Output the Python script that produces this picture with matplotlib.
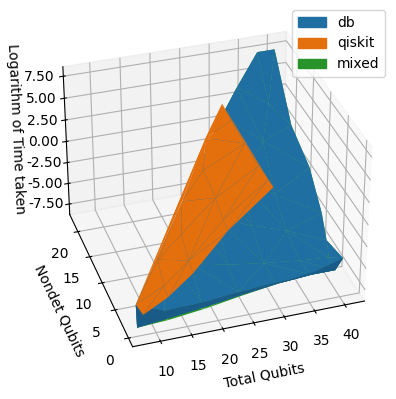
import matplotlib
matplotlib.use("Agg")
import matplotlib.pyplot as plt
from matplotlib.patches import Patch

# db surface samples, row by row in nondet qubits
db_total = [7, 12, 18, 24, 30, 36, 40.3,
            7.5, 12, 18, 24, 30, 36, 40,
            14, 18, 24, 30, 36, 41,
            19.5, 24, 30, 36, 42,
            24.5, 30, 36, 42.5,
            29, 36, 42.5,
            33, 38.5, 42,
            38, 41]
db_nondet = [0, 0, 0, 0, 0, 0, 0,
             1.5, 1.5, 1.5, 1.5, 1.5, 1.5, 1.5,
             5, 5, 5, 5, 5, 5,
             9, 9, 9, 9, 7.5,
             13, 13, 13, 10,
             17, 17, 14,
             20, 20, 19,
             23, 23]
db_time = [-7.8, -7.4, -6.9, -6.3, -5.8, -5.2, -4.3,
           -6.2, -7.5, -7.4, -7.0, -6.7, -6.6, -6.6,
           -3.5, -5.0, -6.0, -6.6, -7.1, -7.4,
           -1.5, -3.0, -4.6, -6.0, -7.0,
           0.0, -1.5, -4.0, -5.3,
           3.8, 0.0, -2.2,
           5.0, 2.5, 0.1,
           7.0, 7.0]
mixed_time = [-7.8, -7.6, -7.1, -6.4, -5.8, -5.2, -4.3,
              -6.2, -7.5, -7.4, -7.0, -6.7, -6.6, -6.6,
              -3.5, -5.0, -6.0, -6.6, -7.1, -7.4,
              -1.5, -3.0, -4.6, -6.0, -7.0,
              0.0, -1.5, -4.0, -5.3,
              3.8, 0.0, -2.2,
              5.0, 2.5, 0.1,
              7.0, 7.0]

qiskit_total = [8, 12, 16, 21.5, 28.6,
                7.5, 12, 16, 21.5, 28.6,
                12.2, 16, 21.5, 28.4,
                18, 21.5, 28.2,
                23.8, 28,
                28]
qiskit_nondet = [0, 0, 0, 0, 0,
                 1.5, 1.5, 1.5, 1.5, 1.5,
                 4, 4, 4, 4,
                 8, 8, 8,
                 12, 12,
                 15]
qiskit_time = [-6.45, -4.95, -2.75, 1.3, 5.2,
               -6.15, -4.65, -2.25, 1.6, 5.2,
               -3.2, -0.8, 2.6, 5.3,
               0.3, 3.4, 5.6,
               4.5, 6.0,
               6.3]

legend_labels = ["db", "qiskit", "mixed"]
surface_colors = ["#1f6fa3", "#e3700d", "#27932a"]
fold_color = "#1a5a87"
x_ticks = [10, 15, 20, 25, 30, 35, 40]
y_ticks = [0, 5, 10, 15, 20]
z_ticks = [-7.5, -5, -2.5, 0, 2.5, 5, 7.5]
z_tick_labels = ["-7.50", "-5.00", "-2.50", "0.00", "2.50", "5.00", "7.50"]

fig = plt.figure(figsize=(3.96, 3.99), dpi=100)
side = 372
ax = fig.add_axes([(207.5 - side / 2) / 396, 1 - (188 + side / 2) / 399, side / 396, side / 399],
                  projection="3d", computed_zorder=False)
ax.patch.set_alpha(0)
ax.view_init(elev=33, azim=-108)
ax.plot_trisurf(db_total, db_nondet, mixed_time, color=surface_colors[2], shade=False)
ax.plot_trisurf(db_total, db_nondet, db_time, color=surface_colors[0], shade=False)
ax.plot_trisurf(db_total[:14], db_nondet[:14], db_time[:14], color=fold_color, shade=False)
ax.plot_trisurf(qiskit_total, qiskit_nondet, qiskit_time, color=surface_colors[1], shade=False)
ax.set_xlabel("Total Qubits")
ax.set_ylabel("Nondet Qubits")
ax.set_zlabel("Logarithm of Time taken")
ax.set_xticks(x_ticks)
ax.set_yticks(y_ticks)
ax.set_zticks(z_ticks)
ax.set_zticklabels(z_tick_labels)
ax.set_xlim(5.6, 43.3)
ax.set_ylim(-1.5, 23.5)
ax.set_zlim(-8.8, 8.57)
handles = [Patch(color=c, label=l) for c, l in zip(surface_colors, legend_labels)]
fig.legend(handles=handles, loc="upper right", bbox_to_anchor=(385 / 396, 1 - 10 / 399),
           borderaxespad=0)
fig.savefig("out.png", dpi=100)
